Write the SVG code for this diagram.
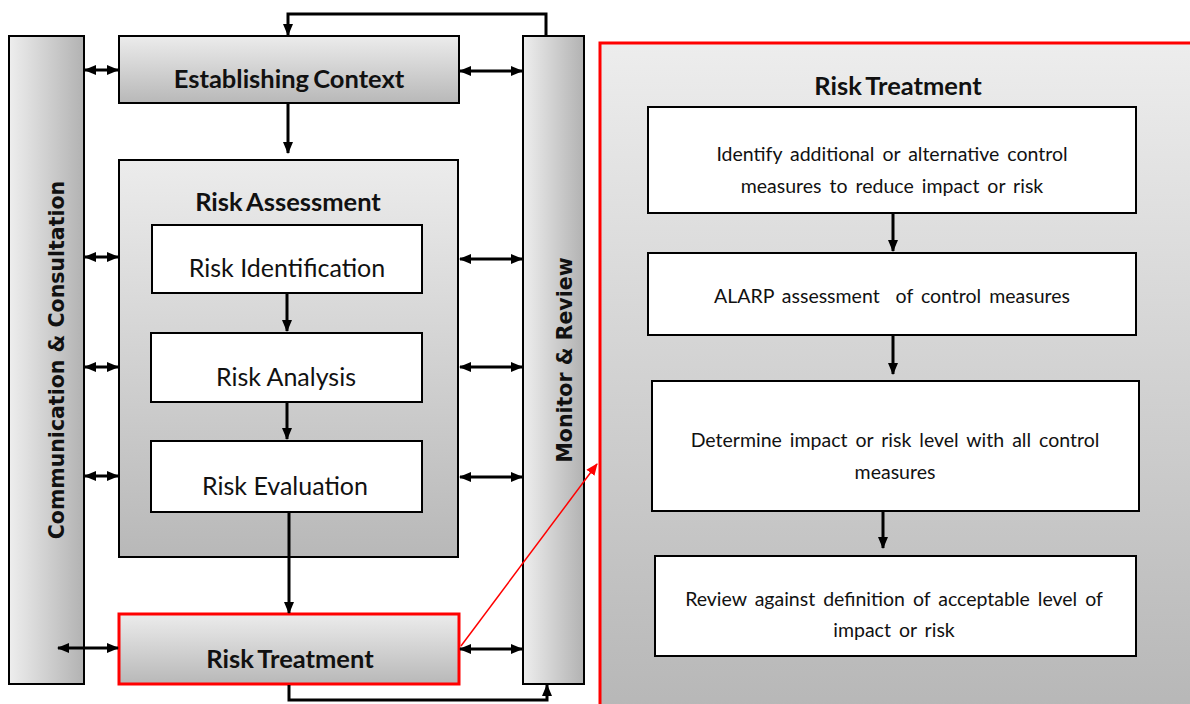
<svg xmlns="http://www.w3.org/2000/svg" width="1190" height="704" viewBox="0 0 1190 704">
  <defs>
    <linearGradient id="gH" x1="0" y1="0" x2="1" y2="0">
      <stop offset="0" stop-color="#eeeeee"/>
      <stop offset="1" stop-color="#b2b2b2"/>
    </linearGradient>
    <linearGradient id="gV" x1="0" y1="0" x2="0" y2="1">
      <stop offset="0" stop-color="#ececec"/>
      <stop offset="1" stop-color="#b8b8b8"/>
    </linearGradient>
    <linearGradient id="gPanel" x1="0" y1="0" x2="0" y2="1">
      <stop offset="0" stop-color="#ededed"/>
      <stop offset="1" stop-color="#b6b6b6"/>
    </linearGradient>
    <marker id="ah" markerUnits="userSpaceOnUse" markerWidth="12" markerHeight="12" viewBox="0 0 12 12" refX="11" refY="6" orient="auto-start-reverse">
      <path d="M0,1 L12,6 L0,11 Z" fill="#000"/>
    </marker>
    <marker id="ahr" markerUnits="userSpaceOnUse" markerWidth="12" markerHeight="12" viewBox="0 0 12 12" refX="11" refY="6" orient="auto">
      <path d="M0,1 L12,6 L0,11 Z" fill="#ff0000"/>
    </marker>
  </defs>
  <style>
    .box { stroke: #000; stroke-width: 2; }
    .white { fill: #fff; stroke: #000; stroke-width: 2; }
    .hdr { font-family: Lato, "Liberation Sans", sans-serif; font-weight: bold; font-size: 25.5px; word-spacing: -2px; fill: #111; text-anchor: middle; }
    .lbl { font-family: Lato, "Liberation Sans", sans-serif; font-size: 25px; fill: #111; text-anchor: middle; }
    .sm { font-family: Lato, "Liberation Sans", sans-serif; font-size: 19.5px; word-spacing: 3px; fill: #111; text-anchor: middle; }
    .vert { font-family: "DejaVu Sans", Verdana, sans-serif; font-weight: bold; font-size: 20.5px; fill: #111; text-anchor: middle; }
    .con { fill: none; stroke: #000; stroke-width: 3; }
  </style>

  <!-- right-hand detail panel -->
  <g id="panel">
    <rect x="600" y="43" width="600" height="680" fill="url(#gPanel)" stroke="#ff0000" stroke-width="3"/>
    <text class="hdr" x="898" y="95">Risk Treatment</text>
  </g>

  <g id="comm">
    <rect class="box" x="9" y="36" width="75" height="648" fill="url(#gH)"/>
    <text class="vert" transform="translate(64,360) rotate(-90)">Communication &amp; Consultation</text>
  </g>
  <g id="monitor">
    <rect class="box" x="523" y="36" width="61" height="648" fill="url(#gH)"/>
    <text class="vert" transform="translate(572,360) rotate(-90)">Monitor &amp; Review</text>
  </g>

  <g id="context">
    <rect class="box" x="119" y="36" width="340" height="67" fill="url(#gV)"/>
    <text class="hdr" x="289" y="88">Establishing Context</text>
  </g>

  <g id="assessment">
    <rect class="box" x="119" y="160" width="339" height="397" fill="url(#gV)"/>
    <text class="hdr" x="288" y="211">Risk Assessment</text>
  </g>
  <g id="identification">
    <rect class="white" x="152" y="225" width="270" height="68"/>
    <text class="lbl" x="287" y="277">Risk Identification</text>
  </g>
  <g id="analysis">
    <rect class="white" x="151" y="333" width="271" height="69"/>
    <text class="lbl" x="286" y="386">Risk Analysis</text>
  </g>
  <g id="evaluation">
    <rect class="white" x="151" y="441" width="271" height="71"/>
    <text class="lbl" x="285" y="495">Risk Evaluation</text>
  </g>

  <g id="treatment">
    <rect x="119" y="614" width="340" height="70" fill="url(#gV)" stroke="#ff0000" stroke-width="3"/>
    <text class="hdr" x="290" y="668">Risk Treatment</text>
  </g>

  <g id="t1">
    <rect class="white" x="648" y="107" width="488" height="106"/>
    <text class="sm" x="892" y="161">Identify additional or alternative control</text>
    <text class="sm" x="892" y="193">measures to reduce impact or risk</text>
  </g>
  <g id="t2">
    <rect class="white" x="648" y="253" width="488" height="82"/>
    <text class="sm" x="892" y="303" xml:space="preserve">ALARP assessment  of control measures</text>
  </g>
  <g id="t3">
    <rect class="white" x="652" y="381" width="487" height="130"/>
    <text class="sm" x="895" y="447">Determine impact or risk level with all control</text>
    <text class="sm" x="895" y="479">measures</text>
  </g>
  <g id="t4">
    <rect class="white" x="655" y="556" width="481" height="100"/>
    <text class="sm" x="894" y="606">Review against definition of acceptable level of</text>
    <text class="sm" x="894" y="637">impact or risk</text>
  </g>

  <g id="connectors">
    <!-- feedback loop over the top -->
    <polyline class="con" points="546,36 546,14 288,14 288,35" marker-end="url(#ah)"/>
    <!-- main flow -->
    <line class="con" x1="288" y1="104" x2="288" y2="153" marker-end="url(#ah)"/>
    <line class="con" x1="287" y1="294" x2="287" y2="331" marker-end="url(#ah)"/>
    <line class="con" x1="287" y1="403" x2="287" y2="439" marker-end="url(#ah)"/>
    <line class="con" x1="289" y1="513" x2="289" y2="613" marker-end="url(#ah)"/>
    <polyline class="con" points="289,685 289,700 547,700 547,685" marker-end="url(#ah)"/>
    <!-- links to communication column -->
    <line class="con" x1="85" y1="70" x2="118" y2="70" marker-start="url(#ah)" marker-end="url(#ah)"/>
    <line class="con" x1="85" y1="257" x2="118" y2="257" marker-start="url(#ah)" marker-end="url(#ah)"/>
    <line class="con" x1="85" y1="367" x2="118" y2="367" marker-start="url(#ah)" marker-end="url(#ah)"/>
    <line class="con" x1="85" y1="476" x2="118" y2="476" marker-start="url(#ah)" marker-end="url(#ah)"/>
    <line class="con" x1="58" y1="648" x2="118" y2="648" marker-start="url(#ah)" marker-end="url(#ah)"/>
    <!-- links to monitor column -->
    <line class="con" x1="460" y1="71" x2="522" y2="71" marker-start="url(#ah)" marker-end="url(#ah)"/>
    <line class="con" x1="460" y1="259" x2="522" y2="259" marker-start="url(#ah)" marker-end="url(#ah)"/>
    <line class="con" x1="460" y1="367" x2="522" y2="367" marker-start="url(#ah)" marker-end="url(#ah)"/>
    <line class="con" x1="460" y1="477" x2="522" y2="477" marker-start="url(#ah)" marker-end="url(#ah)"/>
    <line class="con" x1="460" y1="649" x2="522" y2="649" marker-start="url(#ah)" marker-end="url(#ah)"/>
    <!-- zoom link to detail panel -->
    <line x1="461" y1="646" x2="597" y2="464" stroke="#ff0000" stroke-width="1.5" marker-end="url(#ahr)"/>
    <!-- detail flow -->
    <line class="con" x1="893" y1="214" x2="893" y2="251" marker-end="url(#ah)"/>
    <line class="con" x1="893" y1="336" x2="893" y2="374" marker-end="url(#ah)"/>
    <line class="con" x1="883" y1="512" x2="883" y2="548" marker-end="url(#ah)"/>
  </g>
</svg>
